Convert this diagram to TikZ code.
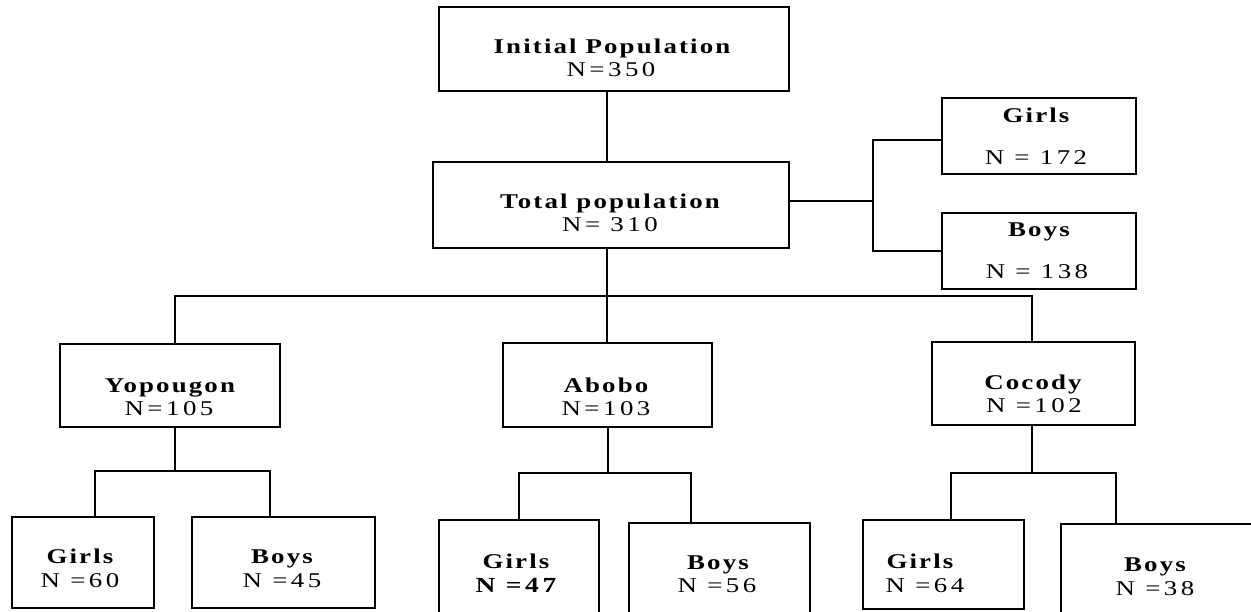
\documentclass[tikz,border=0pt]{standalone}
\usepackage{fontspec}
\usepackage{graphicx}
\usetikzlibrary{fit}
\newfontfamily\hf{Liberation Serif}[LetterSpace=8]
\newfontfamily\nf{Liberation Serif}[LetterSpace=13]
\newcommand\wide[1]{\scalebox{1.28}[1]{#1}}
\tikzset{
  boxnode/.style={draw, line width=1.3pt, inner sep=0pt},
  head/.style={anchor=base, inner sep=0pt, font={\hf\bfseries\fontsize{21}{22}\selectfont}},
  num/.style={anchor=base, inner sep=0pt, font={\nf\fontsize{21}{22}\selectfont}},
  numb/.style={anchor=base, inner sep=0pt, font={\nf\bfseries\fontsize{21.5}{22}\selectfont}},
  conn/.style={line width=1.3pt}
}
\begin{document}
\begin{tikzpicture}[x=1pt,y=-1pt]
\useasboundingbox (0,0) rectangle (1251,612);
\clip (0,0) rectangle (1251,612);
% boxes
\node[boxnode, fit={(439,7) (789,91)}] (init) {};
\node[boxnode, fit={(433,162) (789,248)}] (total) {};
\node[boxnode, fit={(942,98) (1136,174)}] (girlsR) {};
\node[boxnode, fit={(942,213) (1136,289)}] (boysR) {};
\node[boxnode, fit={(60,344) (280,427)}] (yop) {};
\node[boxnode, fit={(503,343) (712,427)}] (abo) {};
\node[boxnode, fit={(932,342) (1135,425)}] (coc) {};
\node[boxnode, fit={(12,517) (154,608)}] (yg) {};
\node[boxnode, fit={(192,517) (375,608)}] (yb) {};
\node[boxnode, fit={(439,520) (599,630)}] (ag) {};
\node[boxnode, fit={(629,523) (810,630)}] (ab) {};
\node[boxnode, fit={(863,520) (1024,609)}] (cg) {};
\node[boxnode, fit={(1061,524) (1270,630)}] (cb) {};
% texts
\node[head] (initH) at (612,54) {\wide{Initial Population}};
\node[num]  (initN) at (611,77) {\wide{N=350}};
\node[head] (totalH) at (610,209) {\wide{Total population}};
\node[num]  (totalN) at (610,232) {\wide{N= 310}};
\node[head] (girlsRH) at (1036,123) {\wide{Girls}};
\node[num]  (girlsRN) at (1036,165) {\wide{N = 172}};
\node[head] (boysRH) at (1039,237) {\wide{Boys}};
\node[num]  (boysRN) at (1037,279) {\wide{N = 138}};
\node[head] (yopH) at (170,392) {\wide{Yopougon}};
\node[num]  (yopN) at (169,415) {\wide{N=105}};
\node[head] (aboH) at (606,392) {\wide{Abobo}};
\node[num]  (aboN) at (606,415) {\wide{N=103}};
\node[head] (cocH) at (1033,389) {\wide{Cocody}};
\node[num]  (cocN) at (1034,412) {\wide{N =102}};
\node[head] (ygH) at (80,563) {\wide{Girls}};
\node[num]  (ygN) at (80,587) {\wide{N =60}};
\node[head] (ybH) at (282,563) {\wide{Boys}};
\node[num]  (ybN) at (282,587) {\wide{N =45}};
\node[head] (agH) at (516,568) {\wide{Girls}};
\node[numb] (agN) at (516,592) {\wide{N =47}};
\node[head] (abH) at (718,569) {\wide{Boys}};
\node[num]  (abN) at (717,592) {\wide{N =56}};
\node[head] (cgH) at (920,568) {\wide{Girls}};
\node[num]  (cgN) at (925,592) {\wide{N =64}};
\node[head] (cbH) at (1155,571) {\wide{Boys}};
\node[num]  (cbN) at (1155,595) {\wide{N =38}};
% connector coordinates
\coordinate (rb) at (873,201);
\coordinate (mid) at (607,296);
\coordinate (bL) at (175,296);
\coordinate (bR) at (1032,296);
\coordinate (yl) at (95,471);
\coordinate (yr) at (270,471);
\coordinate (yc) at (175,471);
\coordinate (al) at (519,473);
\coordinate (ar) at (691,473);
\coordinate (ac) at (608,473);
\coordinate (cl) at (951,473);
\coordinate (cr) at (1116,473);
\coordinate (cc) at (1032,473);
% connectors
\draw[conn] (init.south -| mid) -- (total.north -| mid);
\draw[conn] (total.east |- rb) -- (rb);
\draw[conn] (girlsR.west |- 0,140) -| (rb) |- (boysR.west |- 0,251);
\draw[conn] (total.south -| mid) -- (abo.north -| mid);
\draw[conn] (yop.north -| bL) -- (bL) -- (bR) -- (coc.north -| bR);
\draw[conn] (yop.south -| yc) -- (yc);
\draw[conn] (yg.north -| yl) -- (yl) -- (yr) -- (yb.north -| yr);
\draw[conn] (abo.south -| ac) -- (ac);
\draw[conn] (ag.north -| al) -- (al) -- (ar) -- (ab.north -| ar);
\draw[conn] (coc.south -| cc) -- (cc);
\draw[conn] (cg.north -| cl) -- (cl) -- (cr) -- (cb.north -| cr);
\end{tikzpicture}
\end{document}
